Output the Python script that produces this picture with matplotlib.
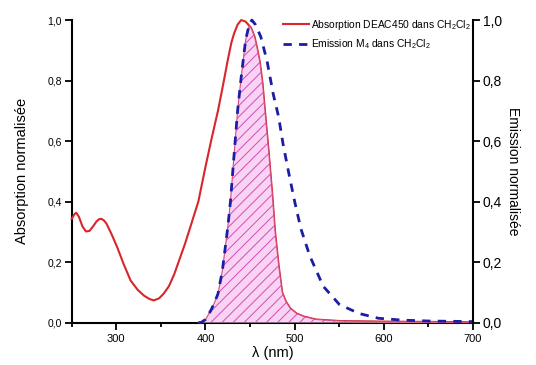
import numpy as np
import matplotlib
matplotlib.use("Agg")
import matplotlib.pyplot as plt
from matplotlib.ticker import MultipleLocator, FuncFormatter

plt.rcParams['font.family'] = ['Liberation Sans', 'DejaVu Sans']
plt.rcParams['mathtext.default'] = 'regular'
plt.rcParams['hatch.linewidth'] = 0.7

# Absorption DEAC450 (normalised)
abs_wl = [250, 253, 255, 258, 262, 266, 270, 274, 278, 281, 283, 286, 289, 295,
          301, 308, 316, 324, 331, 337, 342, 348, 353, 359, 365, 371, 377, 384,
          392, 400, 407, 414, 420, 425, 429, 432, 436, 440, 445, 451, 455, 458,
          461, 464, 467, 471, 475, 478, 482, 486, 490, 495, 502, 510, 524, 550,
          600, 650, 700]
abs_val = [0.343, 0.358, 0.363, 0.35, 0.318, 0.301, 0.303, 0.318, 0.335, 0.342,
           0.343, 0.338, 0.327, 0.29, 0.249, 0.195, 0.139, 0.108, 0.089, 0.078,
           0.073, 0.080, 0.095, 0.12, 0.16, 0.21, 0.26, 0.325, 0.40, 0.515, 0.61,
           0.70, 0.79, 0.868, 0.925, 0.955, 0.985, 1.0, 0.995, 0.975, 0.945,
           0.905, 0.86, 0.79, 0.69, 0.56, 0.42, 0.30, 0.19, 0.10, 0.07, 0.047,
           0.03, 0.02, 0.01, 0.005, 0.003, 0.002, 0.001]

# Emission M4 (normalised)
em_wl = [392, 395, 400, 406, 410, 414, 419, 425, 428, 431, 436, 440, 445, 449,
         452, 456, 462, 469, 476, 482, 487, 493, 500, 507, 517, 532, 550, 572,
         594, 620, 650, 700]
em_val = [0.0, 0.0, 0.01, 0.04, 0.065, 0.095, 0.173, 0.315, 0.40, 0.515, 0.70,
          0.81, 0.934, 0.985, 1.0, 0.985, 0.945, 0.865, 0.755, 0.68, 0.59, 0.50,
          0.40, 0.31, 0.22, 0.12, 0.06, 0.03, 0.014, 0.008, 0.005, 0.003]

x_ticks = [300, 400, 500, 600, 700]
y_ticks = [0.0, 0.2, 0.4, 0.6, 0.8, 1.0]

fig = plt.figure(figsize=(5.36, 3.65), dpi=100)
ax = fig.add_axes([0.1338, 0.1164, 0.8825 - 0.1338, 0.945 - 0.1164])
ax2 = ax.twinx()

red = '#d8262b'
blue = '#1c1ca6'

ax.plot(abs_wl, abs_val, color=red, lw=1.5, zorder=3, clip_on=False,
        label='Absorption DEAC450 dans CH$_2$Cl$_2$')

# overlap region
grid = np.array(sorted(set(abs_wl) | set(em_wl)), dtype=float)
grid = grid[grid >= em_wl[0]]
overlap = np.minimum(np.interp(grid, abs_wl, abs_val), np.interp(grid, em_wl, em_val))
ax.fill_between(grid, 0, overlap, facecolor='#f9d2f4', edgecolor='#cf4fb8',
                hatch='///', linewidth=0.0, zorder=4)
ax.plot(grid, overlap, color='#d44a78', lw=0.8, zorder=4.5)

ax2.plot(em_wl, em_val, color=blue, lw=2.0, ls=(0, (3, 2.6)), clip_on=False,
         label='Emission M$_4$ dans CH$_2$Cl$_2$')

ax.set_xlim(250, 700)
ax.set_ylim(0, 1.0)
ax2.set_ylim(0, 1.0)

ax.set_xticks(x_ticks)
ax.xaxis.set_minor_locator(MultipleLocator(50))
ax.set_yticks(y_ticks)
ax2.set_yticks(y_ticks)
fmt = FuncFormatter(lambda v, p: f"{v:.1f}".replace('.', ','))
ax.yaxis.set_major_formatter(fmt)
ax2.yaxis.set_major_formatter(fmt)

for a in (ax, ax2):
    a.spines['top'].set_visible(False)
    for s in a.spines.values():
        s.set_linewidth(1.5)
ax.spines['right'].set_visible(False)
ax2.spines['left'].set_visible(False)
ax2.spines['bottom'].set_visible(False)

ax.tick_params(axis='x', which='major', direction='out', length=5, width=1.3,
               labelsize=8, pad=3)
ax.tick_params(axis='x', which='minor', direction='out', length=3, width=1.3)
ax.tick_params(axis='y', which='major', direction='out', length=5, width=1.3,
               labelsize=7.5, pad=2)
ax2.tick_params(axis='y', which='major', direction='out', length=5, width=1.3,
                labelsize=10, pad=2)

ax.set_xlabel('λ (nm)', fontsize=10.5, labelpad=2)
ax.set_ylabel('Absorption normalisée', fontsize=10.5, labelpad=13)
ax2.set_ylabel('Emission normalisée', fontsize=10, rotation=270, labelpad=13)

h1, l1 = ax.get_legend_handles_labels()
h2, l2 = ax2.get_legend_handles_labels()
leg = fig.legend(h1 + h2, l1 + l2, loc='upper left',
                 bbox_to_anchor=(283 / 536, 1 - 18 / 365), frameon=False,
                 fontsize=7.4, handlelength=2.5, handletextpad=0.2,
                 borderpad=0, borderaxespad=0, labelspacing=0.5)

fig.savefig('out.png', dpi=100)
